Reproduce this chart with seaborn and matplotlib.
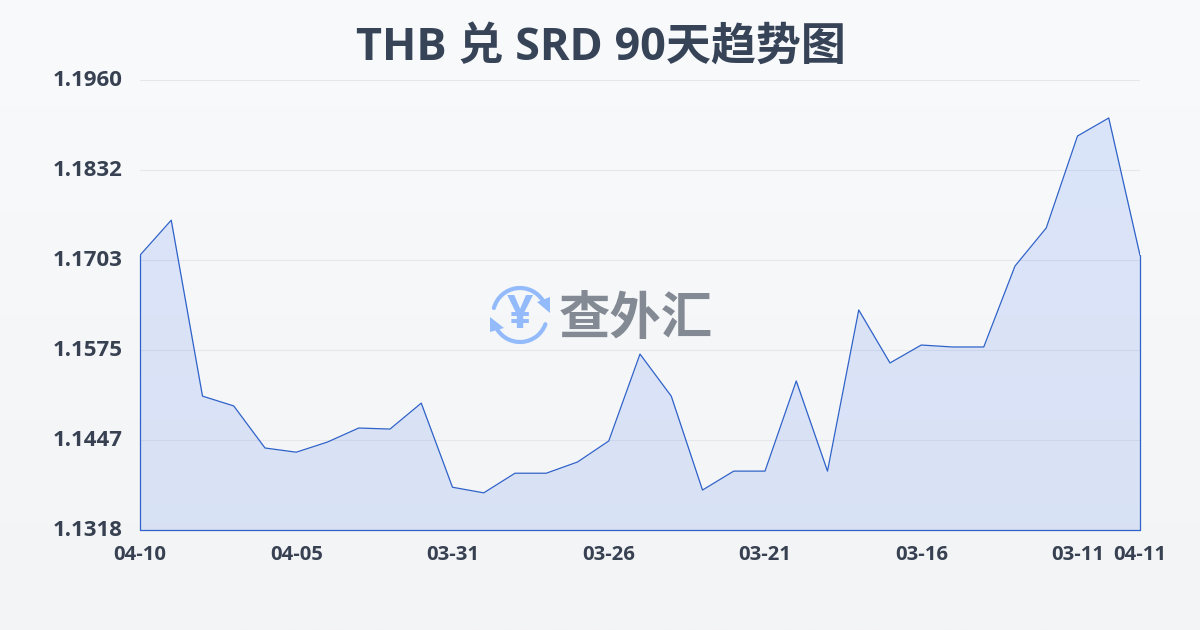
import numpy as np
import pandas as pd
import seaborn as sns
import matplotlib
matplotlib.use("Agg")
import matplotlib.pyplot as plt
from matplotlib.patches import Arc, Polygon
from matplotlib.transforms import ScaledTranslation

values = [1.1710, 1.1760, 1.1509, 1.1495, 1.1435, 1.1429, 1.14435, 1.14635, 1.1462, 1.1499,
          1.1379, 1.1371, 1.1399, 1.1399, 1.1415, 1.1445, 1.1569, 1.1509, 1.1375, 1.1402,
          1.1402, 1.15306, 1.1402, 1.16319, 1.15563, 1.15819, 1.15791, 1.15791, 1.16946,
          1.17489, 1.18801, 1.19058, 1.1710]
tick_positions = [0, 5, 10, 15, 20, 25, 30, 32]
tick_labels = ["04-10", "04-05", "03-31", "03-26", "03-21", "03-16", "03-11", "04-11"]
y_ticks = [1.1318, 1.14464, 1.15748, 1.17032, 1.18316, 1.1960]
y_labels = ["1.1318", "1.1447", "1.1575", "1.1703", "1.1832", "1.1960"]
title = "THB 兑 SRD 90天趋势图"
watermark = "查外汇"

sns.set_theme(style="white")
plt.rcParams["font.family"] = ["Open Sans", "Noto Sans CJK SC", "DejaVu Sans"]

W, H = 1200, 630
fig = plt.figure(figsize=(12, 6.3), dpi=100)

bg = fig.add_axes([0, 0, 1, 1], zorder=0)
top, bottom = np.array([0xf8, 0xfa, 0xfc]) / 255, np.array([0xf3, 0xf4, 0xf6]) / 255
grad = np.linspace(0, 1, 256)[:, None, None] * (bottom - top) + top
bg.imshow(grad, aspect="auto", extent=[0, 1, 0, 1])
bg.axis("off")

ax = fig.add_axes([140 / W, 1 - 530 / H, 1000 / W, 450 / H], zorder=1)
ax.patch.set_alpha(0)
df = pd.DataFrame({"i": np.arange(len(values)), "v": values})
LINE = "#2f62c9"
ax.fill_between(df["i"], df["v"], y_ticks[0], color="#2563eb", alpha=0.13, lw=0, zorder=2)
sns.lineplot(data=df, x="i", y="v", ax=ax, color=LINE, lw=0.9, zorder=3, errorbar=None)
ax.plot([0, 0], [y_ticks[0], values[0]], color=LINE, lw=0.9, zorder=3, clip_on=False)
ax.plot([32, 32], [y_ticks[0], values[-1]], color=LINE, lw=0.9, zorder=3, clip_on=False)
ax.plot([0, 32], [y_ticks[0], y_ticks[0]], color=LINE, lw=0.9, zorder=3, clip_on=False)

ax.set_xlim(0, 32)
ax.set_ylim(y_ticks[0], y_ticks[-1])
ax.set_xlabel("")
ax.set_ylabel("")
for s in ax.spines.values():
    s.set_visible(False)
ax.set_yticks(y_ticks)
ax.set_yticklabels(y_labels)
ax.set_xticks(tick_positions)
ax.set_xticklabels(tick_labels)
ax.grid(axis="y", color="#e5e7eb", lw=0.8, zorder=1)
ax.tick_params(axis="y", length=0, pad=12.5, labelsize=16.0, labelcolor="#374151")
ax.tick_params(axis="x", length=10, width=0.8, color="#e5e7eb", pad=0.5, labelsize=14.6, labelcolor="#374151")
up = ScaledTranslation(0, 2 / 100, fig.dpi_scale_trans)
for t in ax.get_yticklabels():
    t.set_transform(t.get_transform() + up)
for t in ax.get_xticklabels() + ax.get_yticklabels():
    t.set_fontweight("bold")

fig.text(601 / W, 1 - 48 / H, title, ha="center", va="center", fontsize=32.4,
         fontweight="bold", color="#374357")

# watermark: currency-exchange ring plus wordmark
ov = fig.add_axes([0, 0, 1, 1], zorder=3)
ov.set_xlim(0, W)
ov.set_ylim(H, 0)
ov.axis("off")
LOGO = "#93bbfb"
cx, cy = 520, 315
ov.add_patch(Arc((cx, cy), 54, 54, theta1=195, theta2=330, color=LOGO, lw=3.0, capstyle="round"))
ov.add_patch(Arc((cx, cy), 54, 54, theta1=20, theta2=150, color=LOGO, lw=3.0, capstyle="round"))
ov.add_patch(Polygon([[550, 297], [550, 313], [537, 302]], color=LOGO, lw=0))
ov.add_patch(Polygon([[490, 317], [490, 332], [504, 328]], color=LOGO, lw=0))
ov.text(cx, cy + 1, "¥", ha="center", va="center", fontsize=33, fontweight="bold", color=LOGO)
ov.text(636, 321, watermark, ha="center", va="center", fontsize=37, fontweight="bold", color="#848a94")

fig.savefig("out.png", dpi=100)
